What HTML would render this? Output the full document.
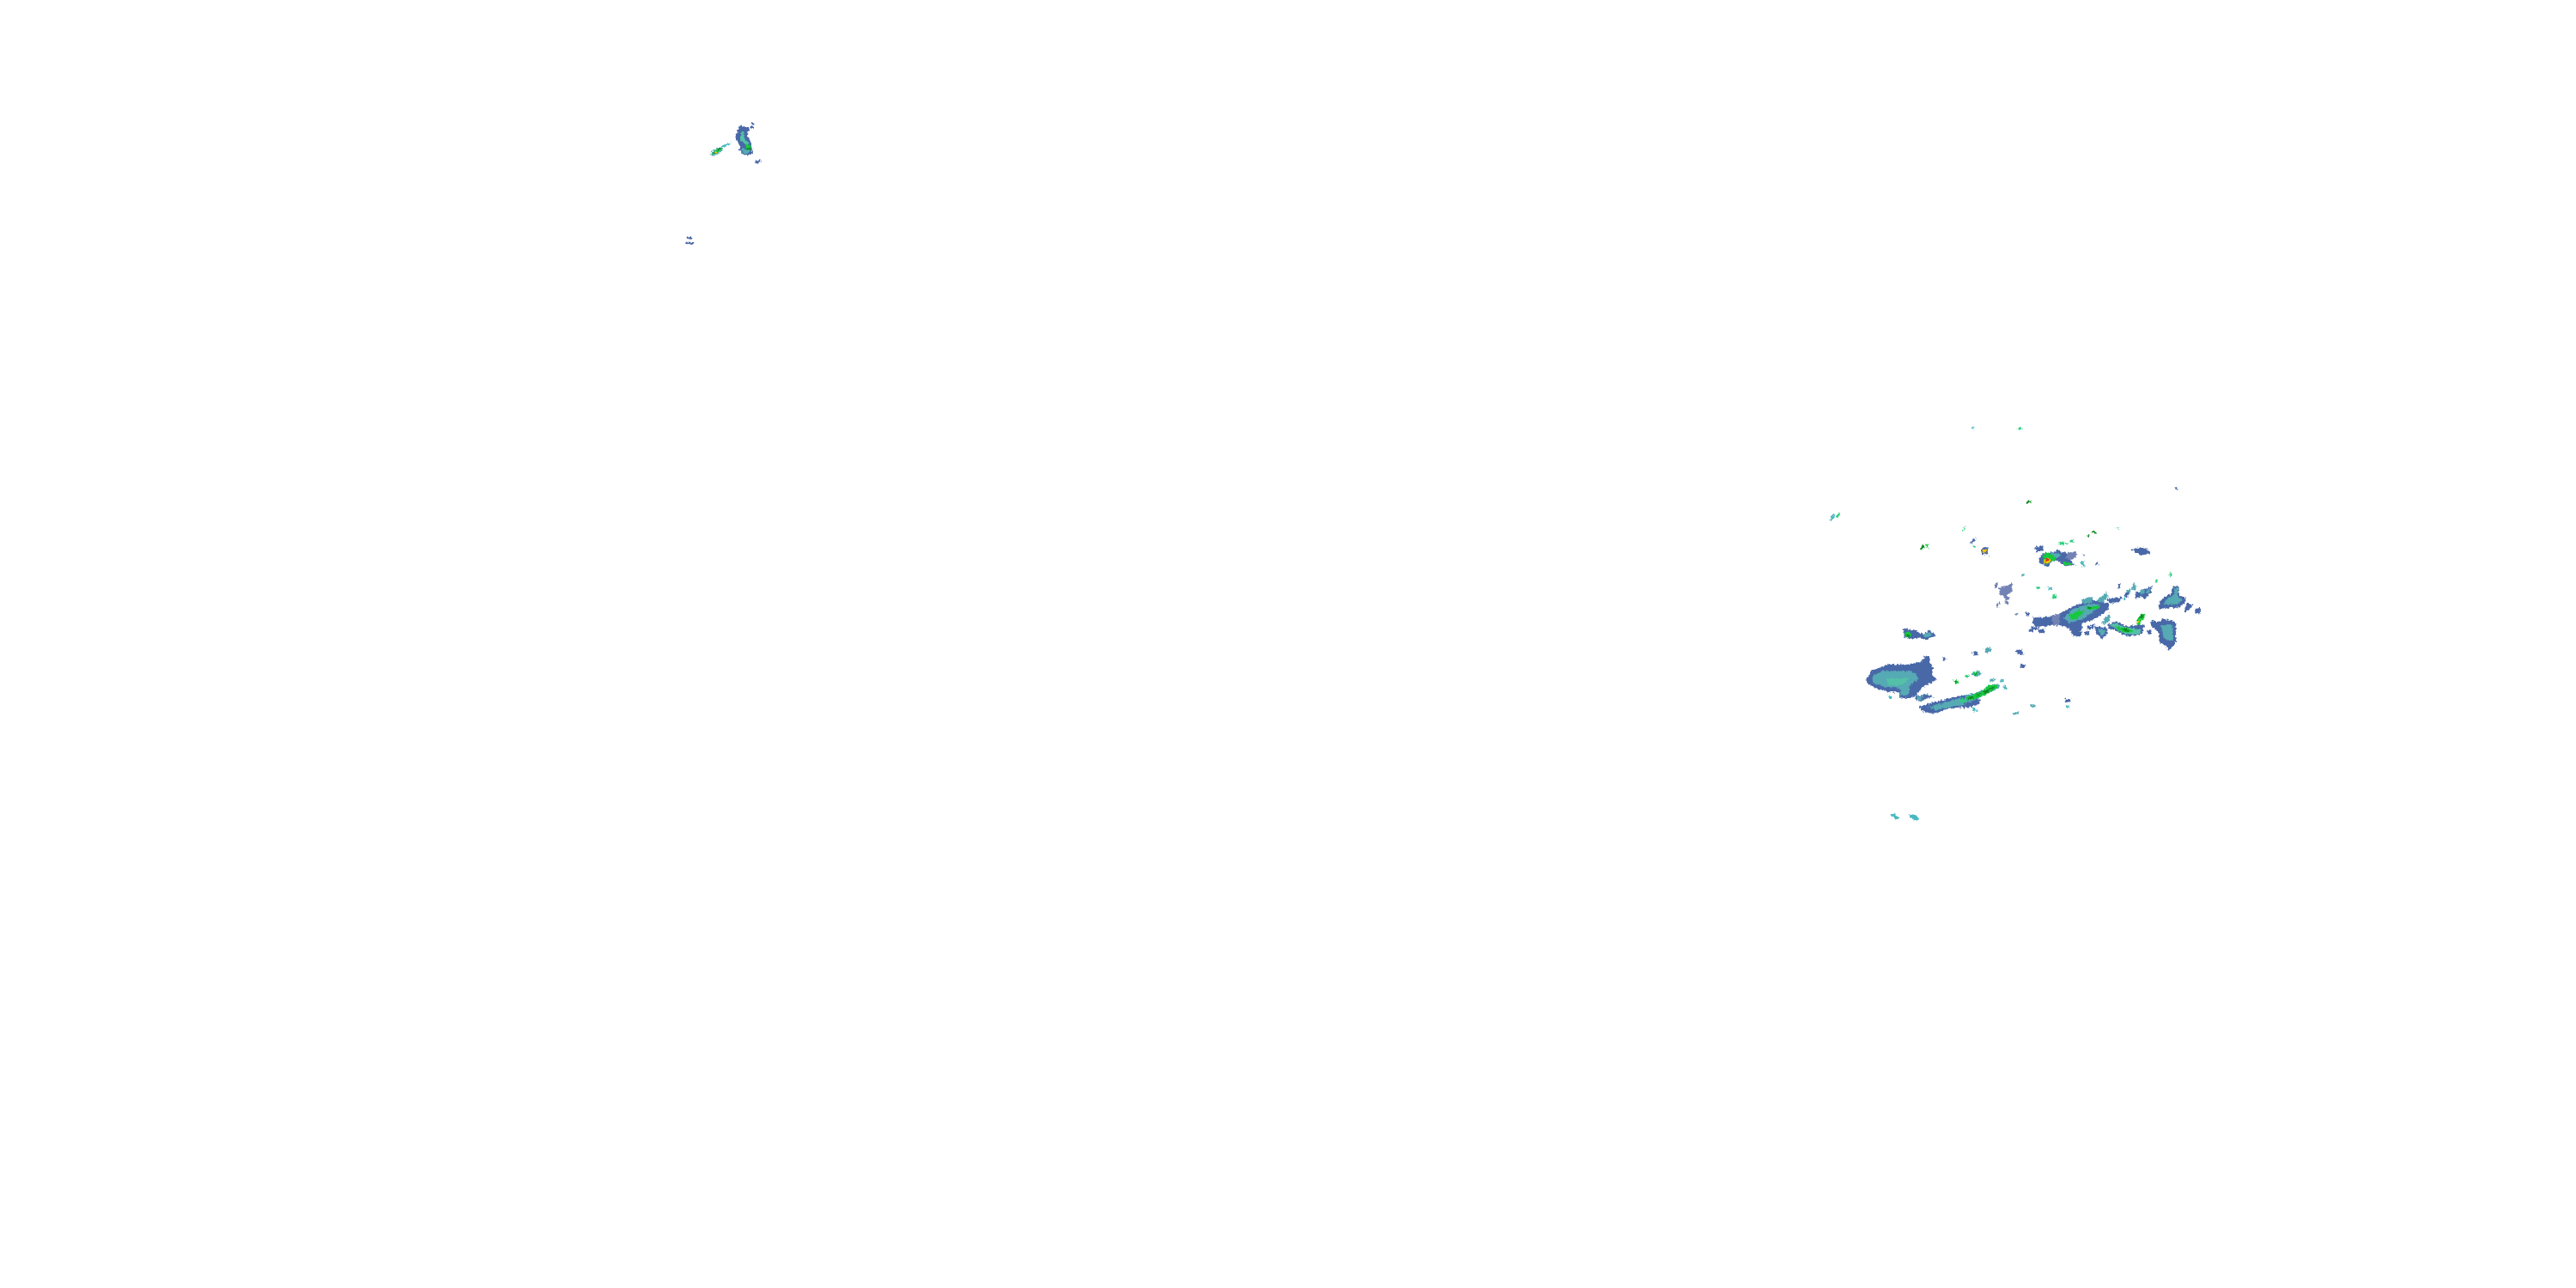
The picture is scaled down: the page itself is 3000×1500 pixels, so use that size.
<!DOCTYPE html>
<html><head><meta charset="utf-8"><style>
html,body{margin:0;padding:0;background:#fff;width:3000px;height:1500px;overflow:hidden}
svg{display:block}
.b{fill:#4a67a8;stroke:#4a67a8;stroke-width:5}.p{fill:#7282b4;stroke:#7282b4;stroke-width:3}.t{fill:#55aab4;stroke:#55aab4;stroke-width:2}.l{fill:#55c0a8}.g{fill:#30d080;stroke:#30d080;stroke-width:1.5}.G{fill:#12c83c}.d{fill:#0a8a22}.y{fill:#f2c200}.r{fill:#e02020}.c{fill:#48b8c0;stroke:#48b8c0;stroke-width:2}
</style></head><body>
<svg width="3000" height="1500" viewBox="0 0 3000 1500" xmlns="http://www.w3.org/2000/svg" shape-rendering="crispEdges">
<defs>
<filter id="rough" filterUnits="userSpaceOnUse" x="0" y="0" width="3000" height="1500">
<feTurbulence type="fractalNoise" baseFrequency="0.45" numOctaves="2" seed="4" result="n"/>
<feDisplacementMap in="SourceGraphic" in2="n" scale="5" xChannelSelector="R" yChannelSelector="G"/>
</filter>
</defs>
<rect width="3000" height="1500" fill="#fff"/>
<g filter="url(#rough)">

<g transform="translate(780,130) scale(.3333)">
<polygon class="t" points="142,150 150,138 170,125 185,123 183,135 165,148 150,154"/>
<polygon class="G" points="146,150 158,138 172,127 184,124 178,136 160,148"/>
<polygon class="d" points="168,128 184,124 178,133 170,135"/>
<polygon class="d" points="150,146 156,140 160,148"/>
<polygon class="y" points="155,141 167,137 165,145 157,148"/>
<polygon class="c" points="185,122 195,113 210,111 200,119 190,124"/>
<polygon class="b" points="248,52 275,55 275,68 268,75 270,90 282,105 280,120 288,128 285,145 270,150 255,148 250,138 243,132 252,128 245,112 234,98 232,88 238,70"/>
<polygon class="l" points="250,70 260,70 260,95 275,110 270,125 262,112 245,100"/>
<polygon class="t" points="252,130 280,135 270,147 256,144"/>
<polygon class="G" points="262,110 275,115 285,125 275,136 268,130"/>
<polygon class="d" points="270,128 284,124 280,133 270,136"/>
<rect class="b" x="282" y="52" width="9" height="4"/><rect class="b" x="288" y="42" width="2" height="2"/>
<polygon class="b" points="300,174 315,170 315,174 302,178"/>
<rect class="b" x="63" y="441" width="12" height="2"/><rect class="b" x="60" y="459" width="21" height="2"/>
</g>

<g transform="translate(2120,480) scale(.3333)">
<polygon class="c" points="33,378 36,365 47,357 47,370 38,380"/>
<polygon class="g" points="57,366 65,352 68,345 66,360 60,368"/>
<polygon class="d" points="349,478 362,461 362,474 352,480"/>
<polygon class="G" points="368,462 378,460 376,472 370,474"/>
<polygon class="c" points="528,53 537,51 534,57 529,57"/>
<polygon class="g" points="688,55 700,53 705,57 690,60"/>
<polygon class="g" points="495,413 507,398 504,408 498,414"/>
<polygon class="b" points="528,455 540,440 538,448 532,454"/>
<rect class="g" x="537" y="468" width="6" height="5"/>
<polygon class="b" points="563,482 575,473 584,476 582,494 566,495"/>
<polygon class="y" points="564,483 575,478 582,482 576,492 568,490"/>
<rect class="g" x="588" y="501" width="3" height="3"/>
<polygon class="b" points="753,474 776,470 776,480 760,486"/>
<rect class="t" x="705" y="567" width="7" height="6"/>
<polygon class="g" points="753,612 762,608 768,614 755,618"/>
<polygon class="p" points="625,615 648,610 668,600 668,625 650,640 660,650 650,656 640,640 630,640"/>
<polygon class="p" points="610,600 618,598 616,610 610,612"/>
<polygon class="p" points="615,672 625,666 620,682 615,684"/>
<polygon class="p" points="643,660 655,664 657,670 648,668"/>
<rect class="p" x="718" y="702" width="10" height="9"/><rect class="p" x="682" y="704" width="6" height="4"/>
</g>

<g transform="translate(2360,560) scale(.3333)">
<polygon class="d" points="0,71 18,69 12,78 0,78"/>
<polygon class="b" points="33,235 55,232 55,240 42,246"/>
<polygon class="g" points="112,215 132,213 132,222 115,224"/>
<polygon class="g" points="152,210 165,205 165,215 153,215"/>
<polygon class="g" points="135,215 147,217 145,222 137,220"/>
<polygon class="d" points="210,190 222,190 218,197 212,195"/>
<polygon class="d" points="228,175 245,178 245,184 235,184"/>
<polygon class="g" points="312,162 320,164 320,168 314,166"/>
<rect class="b" x="522" y="27" width="2" height="2"/>
<polygon class="b" points="372,240 400,235 425,243 428,252 400,258 380,248"/>
<polygon class="p" points="125,252 172,252 172,265 150,278 130,275"/>
<polygon class="b" points="45,275 60,255 95,250 110,243 122,253 140,256 130,272 150,278 165,292 140,295 120,285 110,275 85,282 75,298 60,290 48,285"/>
<polygon class="G" points="58,258 75,250 105,265 100,278 82,282 72,292 58,286"/>
<polygon class="t" points="85,252 120,258 105,270"/>
<polygon class="y" points="60,280 70,270 85,272 82,288 62,290"/>
<rect class="r" x="68" y="272" width="8" height="10"/>
<polygon class="G" points="125,282 165,290 145,295 130,292"/>
<polygon class="c" points="190,283 200,283 205,297 195,298"/>
<rect class="b" x="200" y="258" width="2" height="2"/><rect class="b" x="246" y="288" width="2" height="2"/>
<polygon class="g" points="90,398 102,398 108,408 92,412"/>
<polygon class="g" points="33,372 44,372 40,378 35,378"/>
<polygon class="c" points="76,372 88,374 84,381 78,380"/>

<polygon class="p" points="85,470 125,465 125,500 100,505 85,500"/>
<polygon class="b" points="25,480 85,478 90,500 70,505 35,510 22,495"/>
<polygon class="b" points="120,465 155,445 190,430 215,410 250,425 285,430 285,445 270,460 240,480 195,495 190,520 165,540 150,510 120,503"/>
<polygon class="t" points="130,480 160,450 215,432 255,432 235,455 190,485 150,495"/>
<polygon class="G" points="150,470 185,450 200,460 175,485 155,482"/>
<polygon class="G" points="205,440 255,438 250,448 210,450"/>
<rect class="d" x="215" y="440" width="10" height="7"/>
<polygon class="t" points="195,415 230,408 228,425 200,428"/>
<polygon class="t" points="245,420 280,390 285,405 265,425"/>
<polygon class="b" points="285,415 330,408 328,418 295,425"/>
<polygon class="b" points="0,460 8,466 0,470"/>
<polygon class="b" points="12,520 22,518 20,524 12,524"/><polygon class="b" points="45,522 60,520 58,528 46,528"/>
<polygon class="b" points="22,514 38,516 30,520"/>
<polygon class="b" points="168,535 192,528 188,538 172,540"/>
<polygon class="b" points="150,515 168,520 160,526"/>
<polygon class="b" points="205,530 218,527 216,535 206,536"/>
<polygon class="b" points="215,510 235,505 230,515 215,516"/>
<polygon class="t" points="262,495 290,465 290,490 270,500"/>
<polygon class="b" points="240,510 275,515 282,530 265,550 245,530"/>
<polygon class="t" points="250,518 272,520 274,532 262,540"/>

<polygon class="b" points="285,505 315,495 345,510 412,505 400,535 350,540 320,525 290,512"/>
<polygon class="l" points="290,502 315,498 345,512 400,520 395,535 350,538 320,522"/>
<polygon class="G" points="310,508 345,514 375,525 345,530 320,520"/>
<polygon class="d" points="330,514 345,516 365,524 345,528"/>
<polygon class="G" points="385,485 400,465 415,465 410,480 395,503 385,503"/>
<polygon class="d" points="397,472 410,468 404,482 396,482"/>
<polygon class="y" points="386,488 398,486 394,497 387,497"/>

<rect class="b" x="324" y="363" width="2" height="9"/>
<polygon class="t" points="370,372 376,358 384,370 382,380 370,380"/>
<polygon class="t" points="350,380 362,380 362,395 352,392"/>
<polygon class="b" points="345,392 354,392 350,405 345,404"/>
<polygon class="c" points="342,404 348,404 345,414 342,414"/>
<polygon class="b" points="382,395 410,380 435,372 432,392 415,405 412,412 405,400 385,408"/>
<polygon class="t" points="398,385 412,380 412,392 398,396"/>
<polygon class="t" points="422,382 432,376 428,392 420,392"/>
<polygon class="g" points="450,345 456,346 456,356 451,356"/>
<polygon class="g" points="501,322 508,322 510,334 501,336"/>

<polygon class="b" points="465,445 470,420 490,405 508,395 515,370 530,370 530,400 552,410 552,425 530,440"/>
<polygon class="t" points="478,430 495,410 512,405 520,375 528,375 528,405 545,415 525,432"/>
<polygon class="b" points="555,455 562,430 578,435 565,450"/>
<polygon class="b" points="590,450 605,447 605,462 592,458"/>
<polygon class="b" points="437,490 460,495 480,485 520,495 520,560 498,590 490,575 465,560 462,525 440,510"/>
<polygon class="t" points="470,505 510,505 512,560 480,550"/>
<polygon class="b" points="426,524 436,522 436,532 426,532"/>
</g>

<g transform="translate(2160,710) scale(.3333)">
<polygon class="b" points="42,245 60,215 110,195 180,195 230,185 248,165 258,165 260,190 272,205 265,225 282,243 265,255 235,270 215,295 190,308 160,305 155,285 120,285 75,272 50,260"/>
<polygon class="t" points="60,235 100,215 200,215 225,240 190,265 190,295 160,300 160,275 110,270 65,255"/>
<polygon class="l" points="110,240 190,240 170,262 120,265"/>
<polygon class="b" points="172,68 210,75 240,88 262,75 280,90 250,103 225,95 190,100 175,95"/>
<polygon class="G" points="175,80 195,78 195,97 178,97"/>
<rect class="d" x="180" y="87" width="10" height="8"/>
<polygon class="t" points="240,88 262,80 268,90 245,96"/>
<polygon class="c" points="118,298 122,298 128,312 124,310"/>
<polygon class="t" points="215,305 245,295 272,305 240,310 230,318 215,315"/>
<polygon class="b" points="310,168 315,170 315,176 311,175"/>
<rect class="b" x="415" y="150" width="12" height="7"/>
<polygon class="t" points="455,137 472,130 475,146 460,150"/>
<polygon class="b" points="565,143 580,142 588,154 570,154"/>
<rect class="b" x="584" y="192" width="10" height="8"/>
</g>

<g transform="translate(2200,770) scale(.3333)">
<polygon class="b" points="108,160 140,150 180,140 215,132 240,125 265,120 318,136 310,148 275,160 240,160 200,165 175,175 150,180 115,172"/>
<polygon class="t" points="140,160 180,150 215,140 250,128 265,150 215,160 165,170"/>
<polygon class="t" points="265,122 300,112 330,100 350,85 380,80 388,90 350,110 320,125 290,140 265,142"/>
<polygon class="g" points="248,135 258,128 268,142 252,146"/>
<polygon class="G" points="268,125 300,115 325,105 348,85 378,82 374,96 345,112 318,125 290,135 270,136"/>
<polygon class="d" points="275,126 295,124 292,132 276,133"/>
<polygon class="d" points="306,113 318,113 316,122 308,122"/>
<polygon class="d" points="330,103 348,100 345,112 332,112"/>
<polygon class="d" points="350,92 368,88 362,100 350,100"/>
<polygon class="b" points="92,124 125,120 150,124 130,128 115,138 95,132"/>
<polygon class="t" points="98,125 120,124 112,136 100,134"/>
<polygon class="t" points="292,40 315,35 325,45 305,52 292,50"/>
<polygon class="G" points="296,38 310,38 306,50 298,50"/>
<rect class="d" x="300" y="40" width="6" height="6"/>
<polygon class="G" points="225,66 236,66 242,78 232,80"/>
<polygon class="d" points="228,68 236,70 238,77 232,77"/>
<polygon class="g" points="264,50 280,48 274,60 268,58"/>
<rect class="d" x="269" y="52" width="5" height="4"/>
<polygon class="t" points="352,64 372,62 368,74 354,70"/>
<rect class="c" x="388" y="66" width="14" height="5"/>
<polygon class="c" points="396,85 402,85 414,97 400,95"/>
<polygon class="c" points="292,163 298,163 308,174 296,174"/>
<rect class="b" x="462" y="12" width="12" height="9"/>
<rect class="b" x="618" y="135" width="14" height="5"/>
<rect class="c" x="618" y="156" width="12" height="6"/>
<rect class="t" x="495" y="153" width="15" height="6"/>
<polygon class="t" points="432,180 452,177 452,183 434,186"/>
<polygon class="c" points="6,532 22,536 33,551 14,547"/>
<polygon class="c" points="70,537 90,538 103,548 103,557 85,553"/>
<polygon class="c" points="0,120 5,122 9,132 3,128"/>
</g>
</g>
</svg>
</body></html>
